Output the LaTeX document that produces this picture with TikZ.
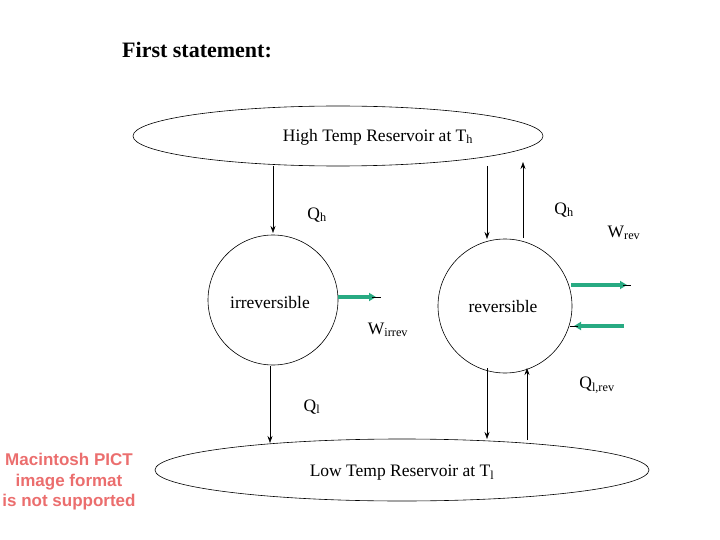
\documentclass[tikz,border=0pt]{standalone}
\usepackage{fontspec}
\setmainfont{Liberation Serif}
\newfontfamily\sansf{Liberation Sans}
\usetikzlibrary{arrows.meta}
\definecolor{grn}{RGB}{40,170,130}
\definecolor{pict}{RGB}{235,110,110}
\begin{document}
\begin{tikzpicture}[x=1pt,y=-1pt,
  arr/.style={-{Stealth[length=7pt,width=5pt]},line width=0.6pt},
  garr/.style={-{Triangle[length=7pt,width=8pt]},line width=3.2pt,draw=grn},
  lab/.style={font=\fontsize{17.5}{20}\selectfont,inner sep=0pt}]
\useasboundingbox (0,0) rectangle (720,540);
\node[font=\bfseries\fontsize{22}{26}\selectfont,anchor=west,inner sep=0pt] (title) at (122,50) {First statement:};
\draw[line width=0.6pt] (338,136) ellipse[x radius=205,y radius=30];
\node[lab] (top) at (378,137) {High Temp Reservoir at T\textsubscript{h}};
\draw[line width=0.6pt] (402,470) ellipse[x radius=247,y radius=31];
\node[lab] (bot) at (402,473) {Low Temp Reservoir at T\textsubscript{l}};
\draw[line width=0.6pt] (273,300) circle[radius=65];
\draw[line width=0.6pt] (505,306) circle[radius=67];
\node[lab] at (270,303) {irreversible};
\node[lab] at (503,307) {reversible};
\coordinate (a1) at (273,166); \coordinate (a2) at (273,233);
\draw[arr] (a1) -- (a2);
\coordinate (b1) at (487,166); \coordinate (b2) at (487,239);
\draw[arr] (b1) -- (b2);
\coordinate (c1) at (523,238); \coordinate (c2) at (523,162);
\draw[arr] (c1) -- (c2);
\coordinate (d1) at (270,366); \coordinate (d2) at (270,443);
\draw[arr] (d1) -- (d2);
\coordinate (e1) at (487,368); \coordinate (e2) at (487,439);
\draw[arr] (e1) -- (e2);
\coordinate (f1) at (527,440); \coordinate (f2) at (527,368);
\draw[arr] (f1) -- (f2);
\node[lab] at (317,215) {Q\textsubscript{h}};
\node[lab] at (564,210) {Q\textsubscript{h}};
\node[lab] at (624,233) {W\textsubscript{rev}};
\node[lab] at (388,330) {W\textsubscript{irrev}};
\node[lab] at (312,407) {Q\textsubscript{l}};
\node[lab] at (597,385) {Q\textsubscript{l,rev}};
\coordinate (g1) at (338,297); \coordinate (g2) at (376,297);
\draw[garr] (g1) -- (g2);
\draw[line width=0.6pt] (372,297) -- (381,297);
\coordinate (h1) at (571,285); \coordinate (h2) at (627,285);
\draw[garr] (h1) -- (h2);
\draw[line width=0.6pt] (623,285) -- (631,285);
\coordinate (i1) at (624,326); \coordinate (i2) at (574,326);
\draw[garr] (i1) -- (i2);
\draw[line width=0.6pt] (578,326) -- (570,326);
\node[font=\sansf\bfseries\fontsize{17}{20.5}\selectfont,text=pict,align=center] (pict) at (69,482) {Macintosh PICT\\image format\\is not supported};
\end{tikzpicture}
\end{document}
